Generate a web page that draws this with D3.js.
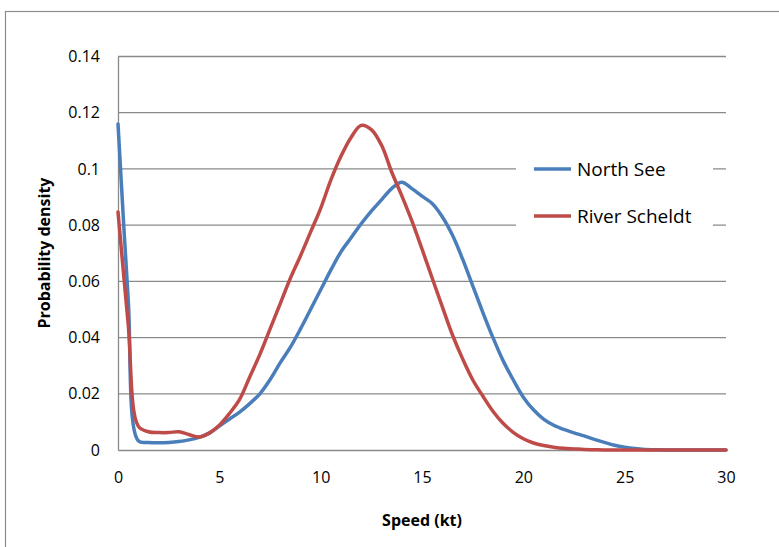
<!DOCTYPE html>
<html><head><meta charset="utf-8">
<script src="https://cdn.jsdelivr.net/npm/d3@7"></script>
<style>body{margin:0;background:#fff}svg{display:block}</style>
</head><body>
<script>
const speeds = d3.range(0, 30.01, 0.5);
const northSee = [0.116,0.054,0.0033,0.0027,0.0026,0.0027,0.003,0.0036,0.0045,0.006,
  0.0085,0.011,0.0135,0.0165,0.02,0.025,0.031,0.0365,0.043,0.05,
  0.057,0.064,0.0705,0.0755,0.0805,0.085,0.089,0.093,0.0953,0.093,
  0.0903,0.0877,0.083,0.0765,0.068,0.0585,0.049,0.04,0.0318,0.025,
  0.0188,0.0143,0.011,0.0088,0.0073,0.0061,0.005,0.0038,0.0027,0.0017,
  0.001,0.0005,0.0002,0.0001,0,0,0,0,0,0,0];
const riverScheldt = [0.0847,0.045,0.0085,0.0065,0.0062,0.0062,0.0065,0.0055,0.0046,0.006,
  0.0088,0.013,0.018,0.026,0.034,0.043,0.052,0.061,0.069,0.0775,
  0.086,0.096,0.1045,0.1112,0.1155,0.114,0.1085,0.099,0.0905,0.0815,
  0.0715,0.0612,0.051,0.041,0.0325,0.025,0.0192,0.0138,0.0095,0.0063,
  0.004,0.0025,0.0016,0.001,0.0006,0.0004,0.0002,0.0001,0,0,
  0,0,0,0,0,0,0,0,0,0,0];
const xTicks = [0,5,10,15,20,25,30];
const yTicks = [0,0.02,0.04,0.06,0.08,0.1,0.12,0.14];
const seriesNames = ["North See","River Scheldt"];
const seriesColors = ["#4a7ebb","#be4b48"];

const W = 779, H = 547;
const svg = d3.select("body").append("svg").attr("width", W).attr("height", H);
const font = "'Open Sans', sans-serif";

svg.append("rect").attr("x",5.5).attr("y",11.5).attr("width",800).attr("height",600)
  .attr("fill","#fff").attr("stroke","#8c8c8c").attr("stroke-width",1.2);

const x = d3.scaleLinear().domain([0,30]).range([118,726]);
const y = d3.scaleLinear().domain([0,0.14]).range([450,56.5]);

// gridlines
svg.append("g").selectAll("line").data(yTicks.filter(d=>d>0)).join("line")
  .attr("x1",x(0)).attr("x2",x(30)).attr("y1",d=>y(d)).attr("y2",d=>y(d))
  .attr("stroke","#8a8a8a").attr("stroke-width",1.3);

// axes
const yAxis = d3.axisLeft(y).tickValues(yTicks).tickSize(0).tickPadding(18)
  .tickFormat(d=>d===0?"0":String(+d.toFixed(2)));
const gy = svg.append("g").attr("transform",`translate(${x(0)},0)`).call(yAxis);
gy.select(".domain").attr("stroke","#8a8a8a").attr("stroke-width",1.3);
gy.selectAll("text").attr("font-family",font).attr("font-size",16).attr("fill","#000");

const xAxis = d3.axisBottom(x).tickValues(xTicks).tickSize(0).tickPadding(22);
const gx = svg.append("g").attr("transform",`translate(0,${y(0)})`).call(xAxis);
gx.select(".domain").attr("stroke","#8a8a8a").attr("stroke-width",1.3);
gx.selectAll("text").attr("font-family",font).attr("font-size",16).attr("fill","#000");

// lines
const line = d3.line().x((d,i)=>x(speeds[i])).y(d=>y(d)).curve(d3.curveCatmullRom.alpha(0.5));
[northSee, riverScheldt].forEach((s,i)=>{
  svg.append("path").attr("d", line(s)).attr("fill","none")
    .attr("stroke",seriesColors[i]).attr("stroke-width",3.5)
    .attr("stroke-linejoin","round").attr("stroke-linecap","round");
});

// legend
const lg = svg.append("g");
lg.append("rect").attr("x",516).attr("y",145).attr("width",197).attr("height",95).attr("fill","#fff");
seriesNames.forEach((n,i)=>{
  const yy = 169 + i*47;
  lg.append("line").attr("x1",534).attr("x2",571).attr("y1",yy).attr("y2",yy)
    .attr("stroke",seriesColors[i]).attr("stroke-width",3.5);
  lg.append("text").attr("x",577).attr("y",yy).attr("dy","0.35em")
    .attr("font-family",font).attr("font-size",19).text(n);
});

// axis titles
svg.append("text").attr("x",422).attr("y",520).attr("dy","0.35em").attr("text-anchor","middle")
  .attr("font-family",font).attr("font-size",16).attr("font-weight","bold").text("Speed (kt)");
svg.append("text").attr("transform","translate(44,253) rotate(-90)").attr("dy","0.35em")
  .attr("text-anchor","middle").attr("font-family",font).attr("font-size",16)
  .attr("font-weight","bold").text("Probability density");
</script>
</body></html>
